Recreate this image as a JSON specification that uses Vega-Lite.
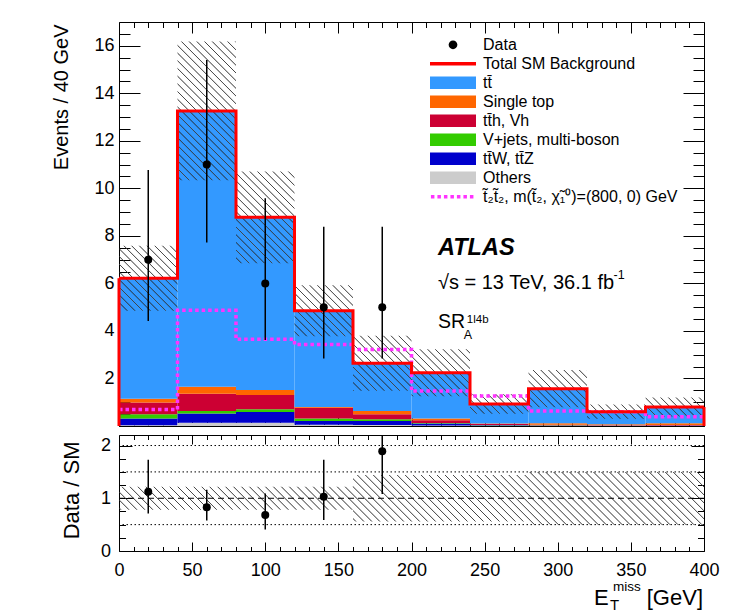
{
"$schema": "https://vega.github.io/schema/vega-lite/v6.json",
"background": "white",
"padding": {"left": 51, "top": 21, "right": 5, "bottom": 5},
"datasets": {
"bins": [
{"lo":0,"hi":40,"mid":20,"total":6.22,"unc_lo":4.85,"unc_hi":7.59,"sig":0.69,"data":7,"data_lo":4.42,"data_hi":10.77,"ratio":1.125,"ratio_lo":0.71,"ratio_hi":1.73,"band_lo":0.78,"band_hi":1.22},
{"lo":40,"hi":80,"mid":60,"total":13.26,"unc_lo":10.34,"unc_hi":16.18,"sig":4.87,"data":11,"data_lo":7.72,"data_hi":15.4,"ratio":0.83,"ratio_lo":0.58,"ratio_hi":1.16,"band_lo":0.78,"band_hi":1.22},
{"lo":80,"hi":120,"mid":100,"total":8.78,"unc_lo":6.85,"unc_hi":10.71,"sig":3.65,"data":6,"data_lo":3.62,"data_hi":9.58,"ratio":0.683,"ratio_lo":0.41,"ratio_hi":1.09,"band_lo":0.78,"band_hi":1.22},
{"lo":120,"hi":160,"mid":140,"total":4.85,"unc_lo":3.78,"unc_hi":5.92,"sig":3.43,"data":5,"data_lo":2.84,"data_hi":8.38,"ratio":1.03,"ratio_lo":0.586,"ratio_hi":1.73,"band_lo":0.78,"band_hi":1.22},
{"lo":160,"hi":200,"mid":180,"total":2.64,"unc_lo":1.48,"unc_hi":3.8,"sig":3.22,"data":5,"data_lo":2.84,"data_hi":8.38,"ratio":1.89,"ratio_lo":1.08,"ratio_hi":3.17,"band_lo":0.56,"band_hi":1.44},
{"lo":200,"hi":240,"mid":220,"total":2.24,"unc_lo":1.25,"unc_hi":3.23,"sig":1.47,"data":null,"data_lo":null,"data_hi":null,"ratio":null,"ratio_lo":null,"ratio_hi":null,"band_lo":0.56,"band_hi":1.44},
{"lo":240,"hi":280,"mid":260,"total":0.93,"unc_lo":0.52,"unc_hi":1.34,"sig":1.26,"data":null,"data_lo":null,"data_hi":null,"ratio":null,"ratio_lo":null,"ratio_hi":null,"band_lo":0.56,"band_hi":1.44},
{"lo":280,"hi":320,"mid":300,"total":1.57,"unc_lo":0.79,"unc_hi":2.36,"sig":0.63,"data":null,"data_lo":null,"data_hi":null,"ratio":null,"ratio_lo":null,"ratio_hi":null,"band_lo":0.5,"band_hi":1.5},
{"lo":320,"hi":360,"mid":340,"total":0.6,"unc_lo":0.3,"unc_hi":0.9,"sig":0.6,"data":null,"data_lo":null,"data_hi":null,"ratio":null,"ratio_lo":null,"ratio_hi":null,"band_lo":0.5,"band_hi":1.5},
{"lo":360,"hi":400,"mid":380,"total":0.8,"unc_lo":0.4,"unc_hi":1.2,"sig":0.39,"data":null,"data_lo":null,"data_hi":null,"ratio":null,"ratio_lo":null,"ratio_hi":null,"band_lo":0.5,"band_hi":1.5}
],
"stack": [
{"lo":0,"hi":40,"comp":"Others","rank":1,"v":0.03},{"lo":0,"hi":40,"comp":"tt\u0304W, tt\u0304Z","rank":2,"v":0.29},{"lo":0,"hi":40,"comp":"V+jets, multi-boson","rank":3,"v":0.17},{"lo":0,"hi":40,"comp":"tt\u0304h, Vh","rank":4,"v":0.5},{"lo":0,"hi":40,"comp":"Single top","rank":5,"v":0.16},{"lo":0,"hi":40,"comp":"tt\u0304","rank":6,"v":5.07},
{"lo":40,"hi":80,"comp":"Others","rank":1,"v":0.14},{"lo":40,"hi":80,"comp":"tt\u0304W, tt\u0304Z","rank":2,"v":0.39},{"lo":40,"hi":80,"comp":"V+jets, multi-boson","rank":3,"v":0.1},{"lo":40,"hi":80,"comp":"tt\u0304h, Vh","rank":4,"v":0.73},{"lo":40,"hi":80,"comp":"Single top","rank":5,"v":0.29},{"lo":40,"hi":80,"comp":"tt\u0304","rank":6,"v":11.61},
{"lo":80,"hi":120,"comp":"Others","rank":1,"v":0.14},{"lo":80,"hi":120,"comp":"tt\u0304W, tt\u0304Z","rank":2,"v":0.45},{"lo":80,"hi":120,"comp":"V+jets, multi-boson","rank":3,"v":0.12},{"lo":80,"hi":120,"comp":"tt\u0304h, Vh","rank":4,"v":0.59},{"lo":80,"hi":120,"comp":"Single top","rank":5,"v":0.22},{"lo":80,"hi":120,"comp":"tt\u0304","rank":6,"v":7.26},
{"lo":120,"hi":160,"comp":"Others","rank":1,"v":0.05},{"lo":120,"hi":160,"comp":"tt\u0304W, tt\u0304Z","rank":2,"v":0.16},{"lo":120,"hi":160,"comp":"V+jets, multi-boson","rank":3,"v":0.11},{"lo":120,"hi":160,"comp":"tt\u0304h, Vh","rank":4,"v":0.45},{"lo":120,"hi":160,"comp":"Single top","rank":5,"v":0.03},{"lo":120,"hi":160,"comp":"tt\u0304","rank":6,"v":4.05},
{"lo":160,"hi":200,"comp":"Others","rank":1,"v":0.04},{"lo":160,"hi":200,"comp":"tt\u0304W, tt\u0304Z","rank":2,"v":0.17},{"lo":160,"hi":200,"comp":"V+jets, multi-boson","rank":3,"v":0.07},{"lo":160,"hi":200,"comp":"tt\u0304h, Vh","rank":4,"v":0.21},{"lo":160,"hi":200,"comp":"Single top","rank":5,"v":0.14},{"lo":160,"hi":200,"comp":"tt\u0304","rank":6,"v":2.01},
{"lo":200,"hi":240,"comp":"Others","rank":1,"v":0.02},{"lo":200,"hi":240,"comp":"tt\u0304W, tt\u0304Z","rank":2,"v":0.08},{"lo":200,"hi":240,"comp":"V+jets, multi-boson","rank":3,"v":0.03},{"lo":200,"hi":240,"comp":"tt\u0304h, Vh","rank":4,"v":0.11},{"lo":200,"hi":240,"comp":"Single top","rank":5,"v":0.08},{"lo":200,"hi":240,"comp":"tt\u0304","rank":6,"v":1.92},
{"lo":240,"hi":280,"comp":"Others","rank":1,"v":0.01},{"lo":240,"hi":280,"comp":"tt\u0304W, tt\u0304Z","rank":2,"v":0.02},{"lo":240,"hi":280,"comp":"V+jets, multi-boson","rank":3,"v":0.01},{"lo":240,"hi":280,"comp":"tt\u0304h, Vh","rank":4,"v":0.04},{"lo":240,"hi":280,"comp":"Single top","rank":5,"v":0.03},{"lo":240,"hi":280,"comp":"tt\u0304","rank":6,"v":0.82},
{"lo":280,"hi":320,"comp":"Others","rank":1,"v":0.01},{"lo":280,"hi":320,"comp":"tt\u0304W, tt\u0304Z","rank":2,"v":0.01},{"lo":280,"hi":320,"comp":"V+jets, multi-boson","rank":3,"v":0.01},{"lo":280,"hi":320,"comp":"tt\u0304h, Vh","rank":4,"v":0.02},{"lo":280,"hi":320,"comp":"Single top","rank":5,"v":0.07},{"lo":280,"hi":320,"comp":"tt\u0304","rank":6,"v":1.45},
{"lo":320,"hi":360,"comp":"Others","rank":1,"v":0.01},{"lo":320,"hi":360,"comp":"tt\u0304W, tt\u0304Z","rank":2,"v":0.01},{"lo":320,"hi":360,"comp":"V+jets, multi-boson","rank":3,"v":0.0},{"lo":320,"hi":360,"comp":"tt\u0304h, Vh","rank":4,"v":0.01},{"lo":320,"hi":360,"comp":"Single top","rank":5,"v":0.04},{"lo":320,"hi":360,"comp":"tt\u0304","rank":6,"v":0.53},
{"lo":360,"hi":400,"comp":"Others","rank":1,"v":0.01},{"lo":360,"hi":400,"comp":"tt\u0304W, tt\u0304Z","rank":2,"v":0.01},{"lo":360,"hi":400,"comp":"V+jets, multi-boson","rank":3,"v":0.0},{"lo":360,"hi":400,"comp":"tt\u0304h, Vh","rank":4,"v":0.02},{"lo":360,"hi":400,"comp":"Single top","rank":5,"v":0.08},{"lo":360,"hi":400,"comp":"tt\u0304","rank":6,"v":0.68}
]
},
"config": {
"view": {"stroke": "black", "strokeWidth": 1},
"font": "Liberation Sans",
"axis": {"grid": false, "domain": false, "labelFont": "Liberation Sans", "labelFontSize": 18, "labelColor": "black", "tickColor": "black", "tickWidth": 1, "labelFlush": false, "labelOverlap": false, "titleFont": "Liberation Sans", "titleFontWeight": "normal", "titleColor": "black"}
},
"spacing": 9,
"bounds": "flush",
"resolve": {"scale": {"color": "independent"}, "legend": {"color": "independent"}},
"vconcat": [
{
"width": 585, "height": 404,
"resolve": {"axis": {"x": "independent", "y": "independent"}},
"layer": [
{
"data": {"name": "stack"},
"transform": [{"stack": "v", "groupby": ["lo"], "sort": [{"field": "rank", "order": "ascending"}], "as": ["s0", "s1"]}],
"mark": {"type": "rect", "strokeWidth": 0},
"encoding": {
"x": {"field": "lo", "type": "quantitative", "scale": {"domain": [0, 400], "nice": false, "zero": false},
"axis": {"orient": "bottom", "values": [0,10,20,30,40,50,60,70,80,90,100,110,120,130,140,150,160,170,180,190,200,210,220,230,240,250,260,270,280,290,300,310,320,330,340,350,360,370,380,390,400], "labels": false, "title": null, "tickSize": {"condition": {"test": "datum.value % 50 === 0", "value": -11}, "value": -5.5}}},
"x2": {"field": "hi"},
"y": {"field": "s0", "type": "quantitative", "scale": {"domain": [0, 17], "nice": false, "zero": false},
"axis": {"orient": "left", "values": [0,0.5,1,1.5,2,2.5,3,3.5,4,4.5,5,5.5,6,6.5,7,7.5,8,8.5,9,9.5,10,10.5,11,11.5,12,12.5,13,13.5,14,14.5,15,15.5,16,16.5], "labelExpr": "datum.value % 2 === 0 && datum.value > 0 ? format(datum.value, 'd') : ''", "labelPadding": 26, "tickSize": {"condition": {"test": "datum.value % 2 === 0", "value": -21}, "value": -11}, "title": "Events / 40 GeV", "titleFontSize": 20, "titleAngle": 270, "titleX": -51.3, "titleY": 2, "titleAlign": "right", "titleBaseline": "alphabetic"}},
"y2": {"field": "s1"},
"color": {"field": "comp", "type": "nominal",
"scale": {"domain": ["Data", "Total SM Background", "tt\u0304", "Single top", "tt\u0304h, Vh", "V+jets, multi-boson", "tt\u0304W, tt\u0304Z", "Others", "t\u0303\u2082t\u0303\u2082, m(t\u0303\u2082, \u03c7\u0303\u2081\u2070)=(800, 0) GeV"],
"range": ["black", "#ff0000", "#3399ff", "#ff6600", "#cc0033", "#33cc00", "#0000cc", "#cccccc", "#ff33ff"]},
"legend": {"orient": "none", "legendX": 309, "legendY": 13.5, "title": null, "padding": 0, "symbolSize": 2116, "clipHeight": 18.6, "rowPadding": 0, "symbolOffset": 0, "symbolStrokeWidth": 3.5, "labelFont": "Liberation Sans", "labelFontSize": 16, "labelColor": "black", "labelOffset": 5, "labelLimit": 400,
"encode": {"symbols": {"update": {
"shape": {"signal": "datum.index === 0 ? 'M-0.19,0A0.19,0.19 0 1 0 0.19,0A0.19,0.19 0 1 0 -0.19,0Z' : datum.index === 8 ? 'M-0.96,0H0.96' : datum.index === 1 ? 'M-1,0H1' : 'M-1,-0.27H1V0.27H-1Z'"},
"fill": {"signal": "['black','transparent','#3399ff','#ff6600','#cc0033','#33cc00','#0000cc','#cccccc','transparent'][datum.index]"},
"stroke": {"signal": "datum.index === 8 ? '#ff33ff' : datum.index === 1 ? '#ff0000' : 'transparent'"},
"strokeWidth": {"value": 3.5},
"strokeDash": {"signal": "datum.index === 8 ? [3.5, 3] : [1, 0]"},
"opacity": {"value": 1}
}}}
}}
}
},
{
"data": {"name": "bins"},
"transform": [{"fold": ["lo", "hi"], "as": ["side", "edge"]}],
"mark": {"type": "area", "fill": {"gradient": "linear", "x1": 0, "y1": 1, "x2": 1.1616, "y2": 0.2506, "stops": [
{"offset":0,"color":"#0000"},{"offset":0.001,"color":"#444"},{"offset":0.002,"color":"#0000"},{"offset":0.008,"color":"#0000"},{"offset":0.009,"color":"#444"},{"offset":0.01,"color":"#0000"},{"offset":0.016,"color":"#0000"},{"offset":0.017,"color":"#444"},{"offset":0.018,"color":"#0000"},{"offset":0.024,"color":"#0000"},{"offset":0.025,"color":"#444"},{"offset":0.026,"color":"#0000"},{"offset":0.032,"color":"#0000"},{"offset":0.033,"color":"#444"},{"offset":0.034,"color":"#0000"},
{"offset":0.04,"color":"#0000"},{"offset":0.041,"color":"#444"},{"offset":0.042,"color":"#0000"},{"offset":0.048,"color":"#0000"},{"offset":0.049,"color":"#444"},{"offset":0.05,"color":"#0000"},{"offset":0.056,"color":"#0000"},{"offset":0.057,"color":"#444"},{"offset":0.058,"color":"#0000"},{"offset":0.064,"color":"#0000"},{"offset":0.065,"color":"#444"},{"offset":0.066,"color":"#0000"},{"offset":0.072,"color":"#0000"},{"offset":0.073,"color":"#444"},{"offset":0.074,"color":"#0000"},
{"offset":0.08,"color":"#0000"},{"offset":0.081,"color":"#444"},{"offset":0.082,"color":"#0000"},{"offset":0.088,"color":"#0000"},{"offset":0.089,"color":"#444"},{"offset":0.09,"color":"#0000"},{"offset":0.096,"color":"#0000"},{"offset":0.097,"color":"#444"},{"offset":0.098,"color":"#0000"},{"offset":0.104,"color":"#0000"},{"offset":0.105,"color":"#444"},{"offset":0.106,"color":"#0000"},{"offset":0.112,"color":"#0000"},{"offset":0.113,"color":"#444"},{"offset":0.114,"color":"#0000"},
{"offset":0.12,"color":"#0000"},{"offset":0.121,"color":"#444"},{"offset":0.122,"color":"#0000"},{"offset":0.128,"color":"#0000"},{"offset":0.129,"color":"#444"},{"offset":0.13,"color":"#0000"},{"offset":0.136,"color":"#0000"},{"offset":0.137,"color":"#444"},{"offset":0.138,"color":"#0000"},{"offset":0.144,"color":"#0000"},{"offset":0.145,"color":"#444"},{"offset":0.146,"color":"#0000"},{"offset":0.152,"color":"#0000"},{"offset":0.153,"color":"#444"},{"offset":0.154,"color":"#0000"},
{"offset":0.16,"color":"#0000"},{"offset":0.161,"color":"#444"},{"offset":0.162,"color":"#0000"},{"offset":0.168,"color":"#0000"},{"offset":0.169,"color":"#444"},{"offset":0.17,"color":"#0000"},{"offset":0.176,"color":"#0000"},{"offset":0.177,"color":"#444"},{"offset":0.178,"color":"#0000"},{"offset":0.184,"color":"#0000"},{"offset":0.185,"color":"#444"},{"offset":0.186,"color":"#0000"},{"offset":0.192,"color":"#0000"},{"offset":0.193,"color":"#444"},{"offset":0.194,"color":"#0000"},
{"offset":0.2,"color":"#0000"},{"offset":0.201,"color":"#444"},{"offset":0.202,"color":"#0000"},{"offset":0.208,"color":"#0000"},{"offset":0.209,"color":"#444"},{"offset":0.21,"color":"#0000"},{"offset":0.216,"color":"#0000"},{"offset":0.217,"color":"#444"},{"offset":0.218,"color":"#0000"},{"offset":0.224,"color":"#0000"},{"offset":0.225,"color":"#444"},{"offset":0.226,"color":"#0000"},{"offset":0.232,"color":"#0000"},{"offset":0.233,"color":"#444"},{"offset":0.234,"color":"#0000"},
{"offset":0.24,"color":"#0000"},{"offset":0.241,"color":"#444"},{"offset":0.242,"color":"#0000"},{"offset":0.248,"color":"#0000"},{"offset":0.249,"color":"#444"},{"offset":0.25,"color":"#0000"},{"offset":0.256,"color":"#0000"},{"offset":0.257,"color":"#444"},{"offset":0.258,"color":"#0000"},{"offset":0.264,"color":"#0000"},{"offset":0.265,"color":"#444"},{"offset":0.266,"color":"#0000"},{"offset":0.272,"color":"#0000"},{"offset":0.273,"color":"#444"},{"offset":0.274,"color":"#0000"},
{"offset":0.28,"color":"#0000"},{"offset":0.281,"color":"#444"},{"offset":0.282,"color":"#0000"},{"offset":0.288,"color":"#0000"},{"offset":0.289,"color":"#444"},{"offset":0.29,"color":"#0000"},{"offset":0.296,"color":"#0000"},{"offset":0.297,"color":"#444"},{"offset":0.298,"color":"#0000"},{"offset":0.304,"color":"#0000"},{"offset":0.305,"color":"#444"},{"offset":0.306,"color":"#0000"},{"offset":0.312,"color":"#0000"},{"offset":0.313,"color":"#444"},{"offset":0.314,"color":"#0000"},
{"offset":0.32,"color":"#0000"},{"offset":0.321,"color":"#444"},{"offset":0.322,"color":"#0000"},{"offset":0.328,"color":"#0000"},{"offset":0.329,"color":"#444"},{"offset":0.33,"color":"#0000"},{"offset":0.336,"color":"#0000"},{"offset":0.337,"color":"#444"},{"offset":0.338,"color":"#0000"},{"offset":0.344,"color":"#0000"},{"offset":0.345,"color":"#444"},{"offset":0.346,"color":"#0000"},{"offset":0.352,"color":"#0000"},{"offset":0.353,"color":"#444"},{"offset":0.354,"color":"#0000"},
{"offset":0.36,"color":"#0000"},{"offset":0.361,"color":"#444"},{"offset":0.362,"color":"#0000"},{"offset":0.368,"color":"#0000"},{"offset":0.369,"color":"#444"},{"offset":0.37,"color":"#0000"},{"offset":0.376,"color":"#0000"},{"offset":0.377,"color":"#444"},{"offset":0.378,"color":"#0000"},{"offset":0.384,"color":"#0000"},{"offset":0.385,"color":"#444"},{"offset":0.386,"color":"#0000"},{"offset":0.392,"color":"#0000"},{"offset":0.393,"color":"#444"},{"offset":0.394,"color":"#0000"},
{"offset":0.4,"color":"#0000"},{"offset":0.401,"color":"#444"},{"offset":0.402,"color":"#0000"},{"offset":0.408,"color":"#0000"},{"offset":0.409,"color":"#444"},{"offset":0.41,"color":"#0000"},{"offset":0.416,"color":"#0000"},{"offset":0.417,"color":"#444"},{"offset":0.418,"color":"#0000"},{"offset":0.424,"color":"#0000"},{"offset":0.425,"color":"#444"},{"offset":0.426,"color":"#0000"},{"offset":0.432,"color":"#0000"},{"offset":0.433,"color":"#444"},{"offset":0.434,"color":"#0000"},
{"offset":0.44,"color":"#0000"},{"offset":0.441,"color":"#444"},{"offset":0.442,"color":"#0000"},{"offset":0.448,"color":"#0000"},{"offset":0.449,"color":"#444"},{"offset":0.45,"color":"#0000"},{"offset":0.456,"color":"#0000"},{"offset":0.457,"color":"#444"},{"offset":0.458,"color":"#0000"},{"offset":0.464,"color":"#0000"},{"offset":0.465,"color":"#444"},{"offset":0.466,"color":"#0000"},{"offset":0.472,"color":"#0000"},{"offset":0.473,"color":"#444"},{"offset":0.474,"color":"#0000"},
{"offset":0.48,"color":"#0000"},{"offset":0.481,"color":"#444"},{"offset":0.482,"color":"#0000"},{"offset":0.488,"color":"#0000"},{"offset":0.489,"color":"#444"},{"offset":0.49,"color":"#0000"},{"offset":0.496,"color":"#0000"},{"offset":0.497,"color":"#444"},{"offset":0.498,"color":"#0000"},{"offset":0.504,"color":"#0000"},{"offset":0.505,"color":"#444"},{"offset":0.506,"color":"#0000"},{"offset":0.512,"color":"#0000"},{"offset":0.513,"color":"#444"},{"offset":0.514,"color":"#0000"},
{"offset":0.52,"color":"#0000"},{"offset":0.521,"color":"#444"},{"offset":0.522,"color":"#0000"},{"offset":0.528,"color":"#0000"},{"offset":0.529,"color":"#444"},{"offset":0.53,"color":"#0000"},{"offset":0.536,"color":"#0000"},{"offset":0.537,"color":"#444"},{"offset":0.538,"color":"#0000"},{"offset":0.544,"color":"#0000"},{"offset":0.545,"color":"#444"},{"offset":0.546,"color":"#0000"},{"offset":0.552,"color":"#0000"},{"offset":0.553,"color":"#444"},{"offset":0.554,"color":"#0000"},
{"offset":0.56,"color":"#0000"},{"offset":0.561,"color":"#444"},{"offset":0.562,"color":"#0000"},{"offset":0.568,"color":"#0000"},{"offset":0.569,"color":"#444"},{"offset":0.57,"color":"#0000"},{"offset":0.576,"color":"#0000"},{"offset":0.577,"color":"#444"},{"offset":0.578,"color":"#0000"},{"offset":0.584,"color":"#0000"},{"offset":0.585,"color":"#444"},{"offset":0.586,"color":"#0000"},{"offset":0.592,"color":"#0000"},{"offset":0.593,"color":"#444"},{"offset":0.594,"color":"#0000"},
{"offset":0.6,"color":"#0000"},{"offset":0.601,"color":"#444"},{"offset":0.602,"color":"#0000"},{"offset":0.608,"color":"#0000"},{"offset":0.609,"color":"#444"},{"offset":0.61,"color":"#0000"},{"offset":0.616,"color":"#0000"},{"offset":0.617,"color":"#444"},{"offset":0.618,"color":"#0000"},{"offset":0.624,"color":"#0000"},{"offset":0.625,"color":"#444"},{"offset":0.626,"color":"#0000"},{"offset":0.632,"color":"#0000"},{"offset":0.633,"color":"#444"},{"offset":0.634,"color":"#0000"},
{"offset":0.64,"color":"#0000"},{"offset":0.641,"color":"#444"},{"offset":0.642,"color":"#0000"},{"offset":0.648,"color":"#0000"},{"offset":0.649,"color":"#444"},{"offset":0.65,"color":"#0000"},{"offset":0.656,"color":"#0000"},{"offset":0.657,"color":"#444"},{"offset":0.658,"color":"#0000"},{"offset":0.664,"color":"#0000"},{"offset":0.665,"color":"#444"},{"offset":0.666,"color":"#0000"},{"offset":0.672,"color":"#0000"},{"offset":0.673,"color":"#444"},{"offset":0.674,"color":"#0000"},
{"offset":0.68,"color":"#0000"},{"offset":0.681,"color":"#444"},{"offset":0.682,"color":"#0000"},{"offset":0.688,"color":"#0000"},{"offset":0.689,"color":"#444"},{"offset":0.69,"color":"#0000"},{"offset":0.696,"color":"#0000"},{"offset":0.697,"color":"#444"},{"offset":0.698,"color":"#0000"},{"offset":0.704,"color":"#0000"},{"offset":0.705,"color":"#444"},{"offset":0.706,"color":"#0000"},{"offset":0.712,"color":"#0000"},{"offset":0.713,"color":"#444"},{"offset":0.714,"color":"#0000"},
{"offset":0.72,"color":"#0000"},{"offset":0.721,"color":"#444"},{"offset":0.722,"color":"#0000"},{"offset":0.728,"color":"#0000"},{"offset":0.729,"color":"#444"},{"offset":0.73,"color":"#0000"},{"offset":0.736,"color":"#0000"},{"offset":0.737,"color":"#444"},{"offset":0.738,"color":"#0000"},{"offset":0.744,"color":"#0000"},{"offset":0.745,"color":"#444"},{"offset":0.746,"color":"#0000"},{"offset":0.752,"color":"#0000"},{"offset":0.753,"color":"#444"},{"offset":0.754,"color":"#0000"},
{"offset":0.76,"color":"#0000"},{"offset":0.761,"color":"#444"},{"offset":0.762,"color":"#0000"},{"offset":0.768,"color":"#0000"},{"offset":0.769,"color":"#444"},{"offset":0.77,"color":"#0000"},{"offset":0.776,"color":"#0000"},{"offset":0.777,"color":"#444"},{"offset":0.778,"color":"#0000"},{"offset":0.784,"color":"#0000"},{"offset":0.785,"color":"#444"},{"offset":0.786,"color":"#0000"},{"offset":0.792,"color":"#0000"},{"offset":0.793,"color":"#444"},{"offset":0.794,"color":"#0000"},
{"offset":0.8,"color":"#0000"},{"offset":0.801,"color":"#444"},{"offset":0.802,"color":"#0000"},{"offset":0.808,"color":"#0000"},{"offset":0.809,"color":"#444"},{"offset":0.81,"color":"#0000"},{"offset":0.816,"color":"#0000"},{"offset":0.817,"color":"#444"},{"offset":0.818,"color":"#0000"},{"offset":0.824,"color":"#0000"},{"offset":0.825,"color":"#444"},{"offset":0.826,"color":"#0000"},{"offset":0.832,"color":"#0000"},{"offset":0.833,"color":"#444"},{"offset":0.834,"color":"#0000"},
{"offset":0.84,"color":"#0000"},{"offset":0.841,"color":"#444"},{"offset":0.842,"color":"#0000"},{"offset":0.848,"color":"#0000"},{"offset":0.849,"color":"#444"},{"offset":0.85,"color":"#0000"},{"offset":0.856,"color":"#0000"},{"offset":0.857,"color":"#444"},{"offset":0.858,"color":"#0000"},{"offset":0.864,"color":"#0000"},{"offset":0.865,"color":"#444"},{"offset":0.866,"color":"#0000"},{"offset":0.872,"color":"#0000"},{"offset":0.873,"color":"#444"},{"offset":0.874,"color":"#0000"},
{"offset":0.88,"color":"#0000"},{"offset":0.881,"color":"#444"},{"offset":0.882,"color":"#0000"},{"offset":0.888,"color":"#0000"},{"offset":0.889,"color":"#444"},{"offset":0.89,"color":"#0000"},{"offset":0.896,"color":"#0000"},{"offset":0.897,"color":"#444"},{"offset":0.898,"color":"#0000"},{"offset":0.904,"color":"#0000"},{"offset":0.905,"color":"#444"},{"offset":0.906,"color":"#0000"},{"offset":0.912,"color":"#0000"},{"offset":0.913,"color":"#444"},{"offset":0.914,"color":"#0000"},
{"offset":0.92,"color":"#0000"},{"offset":0.921,"color":"#444"},{"offset":0.922,"color":"#0000"},{"offset":0.928,"color":"#0000"},{"offset":0.929,"color":"#444"},{"offset":0.93,"color":"#0000"},{"offset":0.936,"color":"#0000"},{"offset":0.937,"color":"#444"},{"offset":0.938,"color":"#0000"},{"offset":0.944,"color":"#0000"},{"offset":0.945,"color":"#444"},{"offset":0.946,"color":"#0000"},{"offset":0.952,"color":"#0000"},{"offset":0.953,"color":"#444"},{"offset":0.954,"color":"#0000"},
{"offset":0.96,"color":"#0000"},{"offset":0.961,"color":"#444"},{"offset":0.962,"color":"#0000"},{"offset":0.968,"color":"#0000"},{"offset":0.969,"color":"#444"},{"offset":0.97,"color":"#0000"},{"offset":0.976,"color":"#0000"},{"offset":0.977,"color":"#444"},{"offset":0.978,"color":"#0000"},{"offset":0.984,"color":"#0000"},{"offset":0.985,"color":"#444"},{"offset":0.986,"color":"#0000"},{"offset":0.992,"color":"#0000"},{"offset":0.993,"color":"#444"},{"offset":0.994,"color":"#0000"},
{"offset":1,"color":"#0000"}
]}},
"encoding": {
"x": {"field": "edge", "type": "quantitative", "axis": {"orient": "top", "values": [0,10,20,30,40,50,60,70,80,90,100,110,120,130,140,150,160,170,180,190,200,210,220,230,240,250,260,270,280,290,300,310,320,330,340,350,360,370,380,390,400], "labels": false, "title": null, "tickSize": {"condition": {"test": "datum.value % 50 === 0", "value": -11}, "value": -5.5}}},
"y": {"field": "unc_lo", "type": "quantitative", "axis": {"orient": "right", "values": [0,0.5,1,1.5,2,2.5,3,3.5,4,4.5,5,5.5,6,6.5,7,7.5,8,8.5,9,9.5,10,10.5,11,11.5,12,12.5,13,13.5,14,14.5,15,15.5,16,16.5], "labels": false, "title": null, "tickSize": {"condition": {"test": "datum.value % 2 === 0", "value": -21}, "value": -11}}},
"y2": {"field": "unc_hi"}
}
},
{
"data": {"name": "bins"},
"transform": [{"fold": ["lo", "hi"], "as": ["side", "edge"]}],
"mark": {"type": "line", "color": "#ff33ff", "strokeWidth": 3.5, "strokeDash": [3.5, 3], "strokeCap": "butt"},
"encoding": {
"x": {"field": "edge", "type": "quantitative", "axis": null},
"y": {"field": "sig", "type": "quantitative", "axis": null},
"order": [{"field": "edge"}, {"field": "lo"}]
}
},
{
"data": {"name": "bins"},
"transform": [{"fold": ["lo", "hi"], "as": ["side", "edge"]}],
"mark": {"type": "line", "color": "#ff0000", "strokeWidth": 3, "strokeJoin": "miter", "strokeCap": "butt"},
"encoding": {
"x": {"field": "edge", "type": "quantitative", "axis": null},
"y": {"field": "total", "type": "quantitative", "axis": null},
"order": [{"field": "edge"}, {"field": "lo"}]
}
},
{
"data": {"name": "bins"},
"transform": [{"filter": "datum.lo === 0"}],
"mark": {"type": "rule", "color": "#ff0000", "strokeWidth": 3},
"encoding": {
"x": {"field": "lo", "type": "quantitative", "axis": null},
"y": {"field": "total", "type": "quantitative", "axis": null},
"y2": {"datum": 0}
}
},
{
"data": {"name": "bins"},
"transform": [{"filter": "datum.hi === 400"}],
"mark": {"type": "rule", "color": "#ff0000", "strokeWidth": 3},
"encoding": {
"x": {"field": "hi", "type": "quantitative", "axis": null},
"y": {"field": "total", "type": "quantitative", "axis": null},
"y2": {"datum": 0}
}
},
{
"data": {"name": "bins"},
"transform": [{"filter": "isValid(datum.data)"}],
"mark": {"type": "rule", "color": "black", "strokeWidth": 1.5},
"encoding": {
"x": {"field": "mid", "type": "quantitative", "axis": null},
"y": {"field": "data_lo", "type": "quantitative", "axis": null},
"y2": {"field": "data_hi"}
}
},
{
"data": {"name": "bins"},
"transform": [{"filter": "isValid(datum.data)"}],
"mark": {"type": "point", "filled": true, "color": "black", "size": 64, "opacity": 1},
"encoding": {
"x": {"field": "mid", "type": "quantitative", "axis": null},
"y": {"field": "data", "type": "quantitative", "axis": null}
}
},
{
"data": {"values": [{}]},
"mark": {"type": "text", "text": "ATLAS", "align": "left", "baseline": "alphabetic", "font": "Liberation Sans", "fontSize": 23.5, "fontStyle": "italic", "fontWeight": "bold", "color": "black"},
"encoding": {"x": {"datum": 218.1, "type": "quantitative", "axis": null}, "y": {"datum": 7.18, "type": "quantitative", "axis": null}}
},
{
"data": {"values": [{}]},
"mark": {"type": "text", "text": "\u221as = 13 TeV, 36.1 fb", "align": "left", "baseline": "alphabetic", "font": "Liberation Sans", "fontSize": 20, "color": "black"},
"encoding": {"x": {"datum": 218.1, "type": "quantitative", "axis": null}, "y": {"datum": 5.75, "type": "quantitative", "axis": null}}
},
{
"data": {"values": [{}]},
"mark": {"type": "text", "text": "-1", "align": "left", "baseline": "alphabetic", "font": "Liberation Sans", "fontSize": 12.5, "color": "black"},
"encoding": {"x": {"datum": 338.2, "type": "quantitative", "axis": null}, "y": {"datum": 6.18, "type": "quantitative", "axis": null}}
},
{
"data": {"values": [{}]},
"mark": {"type": "text", "text": "SR", "align": "left", "baseline": "alphabetic", "font": "Liberation Sans", "fontSize": 19.5, "color": "black"},
"encoding": {"x": {"datum": 218.1, "type": "quantitative", "axis": null}, "y": {"datum": 4.14, "type": "quantitative", "axis": null}}
},
{
"data": {"values": [{}]},
"mark": {"type": "text", "text": "A", "align": "left", "baseline": "alphabetic", "font": "Liberation Sans", "fontSize": 12.5, "color": "black"},
"encoding": {"x": {"datum": 235.8, "type": "quantitative", "axis": null}, "y": {"datum": 3.66, "type": "quantitative", "axis": null}}
},
{
"data": {"values": [{}]},
"mark": {"type": "text", "text": "1l4b", "align": "left", "baseline": "alphabetic", "font": "Liberation Sans", "fontSize": 11.5, "color": "black"},
"encoding": {"x": {"datum": 237.8, "type": "quantitative", "axis": null}, "y": {"datum": 4.33, "type": "quantitative", "axis": null}}
}
]
},
{
"width": 585, "height": 116,
"resolve": {"axis": {"x": "independent", "y": "independent"}},
"layer": [
{
"data": {"name": "bins"},
"transform": [{"fold": ["lo", "hi"], "as": ["side", "edge"]}],
"mark": {"type": "area", "fill": {"gradient": "linear", "x1": 0, "y1": 1, "x2": 1.0813, "y2": 0.9026, "stops": [
{"offset":0,"color":"#0000"},{"offset":0.0015,"color":"#444"},{"offset":0.003,"color":"#0000"},{"offset":0.0125,"color":"#0000"},{"offset":0.014,"color":"#444"},{"offset":0.0155,"color":"#0000"},{"offset":0.025,"color":"#0000"},{"offset":0.0265,"color":"#444"},{"offset":0.028,"color":"#0000"},{"offset":0.0375,"color":"#0000"},{"offset":0.039,"color":"#444"},{"offset":0.0405,"color":"#0000"},{"offset":0.05,"color":"#0000"},{"offset":0.0515,"color":"#444"},{"offset":0.053,"color":"#0000"},{"offset":0.0625,"color":"#0000"},{"offset":0.064,"color":"#444"},{"offset":0.0655,"color":"#0000"},{"offset":0.075,"color":"#0000"},{"offset":0.0765,"color":"#444"},{"offset":0.078,"color":"#0000"},{"offset":0.0875,"color":"#0000"},{"offset":0.089,"color":"#444"},{"offset":0.0905,"color":"#0000"},
{"offset":0.1,"color":"#0000"},{"offset":0.1015,"color":"#444"},{"offset":0.103,"color":"#0000"},{"offset":0.1125,"color":"#0000"},{"offset":0.114,"color":"#444"},{"offset":0.1155,"color":"#0000"},{"offset":0.125,"color":"#0000"},{"offset":0.1265,"color":"#444"},{"offset":0.128,"color":"#0000"},{"offset":0.1375,"color":"#0000"},{"offset":0.139,"color":"#444"},{"offset":0.1405,"color":"#0000"},{"offset":0.15,"color":"#0000"},{"offset":0.1515,"color":"#444"},{"offset":0.153,"color":"#0000"},{"offset":0.1625,"color":"#0000"},{"offset":0.164,"color":"#444"},{"offset":0.1655,"color":"#0000"},{"offset":0.175,"color":"#0000"},{"offset":0.1765,"color":"#444"},{"offset":0.178,"color":"#0000"},{"offset":0.1875,"color":"#0000"},{"offset":0.189,"color":"#444"},{"offset":0.1905,"color":"#0000"},
{"offset":0.2,"color":"#0000"},{"offset":0.2015,"color":"#444"},{"offset":0.203,"color":"#0000"},{"offset":0.2125,"color":"#0000"},{"offset":0.214,"color":"#444"},{"offset":0.2155,"color":"#0000"},{"offset":0.225,"color":"#0000"},{"offset":0.2265,"color":"#444"},{"offset":0.228,"color":"#0000"},{"offset":0.2375,"color":"#0000"},{"offset":0.239,"color":"#444"},{"offset":0.2405,"color":"#0000"},{"offset":0.25,"color":"#0000"},{"offset":0.2515,"color":"#444"},{"offset":0.253,"color":"#0000"},{"offset":0.2625,"color":"#0000"},{"offset":0.264,"color":"#444"},{"offset":0.2655,"color":"#0000"},{"offset":0.275,"color":"#0000"},{"offset":0.2765,"color":"#444"},{"offset":0.278,"color":"#0000"},{"offset":0.2875,"color":"#0000"},{"offset":0.289,"color":"#444"},{"offset":0.2905,"color":"#0000"},
{"offset":0.3,"color":"#0000"},{"offset":0.3015,"color":"#444"},{"offset":0.303,"color":"#0000"},{"offset":0.3125,"color":"#0000"},{"offset":0.314,"color":"#444"},{"offset":0.3155,"color":"#0000"},{"offset":0.325,"color":"#0000"},{"offset":0.3265,"color":"#444"},{"offset":0.328,"color":"#0000"},{"offset":0.3375,"color":"#0000"},{"offset":0.339,"color":"#444"},{"offset":0.3405,"color":"#0000"},{"offset":0.35,"color":"#0000"},{"offset":0.3515,"color":"#444"},{"offset":0.353,"color":"#0000"},{"offset":0.3625,"color":"#0000"},{"offset":0.364,"color":"#444"},{"offset":0.3655,"color":"#0000"},{"offset":0.375,"color":"#0000"},{"offset":0.3765,"color":"#444"},{"offset":0.378,"color":"#0000"},{"offset":0.3875,"color":"#0000"},{"offset":0.389,"color":"#444"},{"offset":0.3905,"color":"#0000"},
{"offset":0.4,"color":"#0000"},{"offset":0.4015,"color":"#444"},{"offset":0.403,"color":"#0000"},{"offset":0.4125,"color":"#0000"},{"offset":0.414,"color":"#444"},{"offset":0.4155,"color":"#0000"},{"offset":0.425,"color":"#0000"},{"offset":0.4265,"color":"#444"},{"offset":0.428,"color":"#0000"},{"offset":0.4375,"color":"#0000"},{"offset":0.439,"color":"#444"},{"offset":0.4405,"color":"#0000"},{"offset":0.45,"color":"#0000"},{"offset":0.4515,"color":"#444"},{"offset":0.453,"color":"#0000"},{"offset":0.4625,"color":"#0000"},{"offset":0.464,"color":"#444"},{"offset":0.4655,"color":"#0000"},{"offset":0.475,"color":"#0000"},{"offset":0.4765,"color":"#444"},{"offset":0.478,"color":"#0000"},{"offset":0.4875,"color":"#0000"},{"offset":0.489,"color":"#444"},{"offset":0.4905,"color":"#0000"},
{"offset":0.5,"color":"#0000"},{"offset":0.5015,"color":"#444"},{"offset":0.503,"color":"#0000"},{"offset":0.5125,"color":"#0000"},{"offset":0.514,"color":"#444"},{"offset":0.5155,"color":"#0000"},{"offset":0.525,"color":"#0000"},{"offset":0.5265,"color":"#444"},{"offset":0.528,"color":"#0000"},{"offset":0.5375,"color":"#0000"},{"offset":0.539,"color":"#444"},{"offset":0.5405,"color":"#0000"},{"offset":0.55,"color":"#0000"},{"offset":0.5515,"color":"#444"},{"offset":0.553,"color":"#0000"},{"offset":0.5625,"color":"#0000"},{"offset":0.564,"color":"#444"},{"offset":0.5655,"color":"#0000"},{"offset":0.575,"color":"#0000"},{"offset":0.5765,"color":"#444"},{"offset":0.578,"color":"#0000"},{"offset":0.5875,"color":"#0000"},{"offset":0.589,"color":"#444"},{"offset":0.5905,"color":"#0000"},
{"offset":0.6,"color":"#0000"},{"offset":0.6015,"color":"#444"},{"offset":0.603,"color":"#0000"},{"offset":0.6125,"color":"#0000"},{"offset":0.614,"color":"#444"},{"offset":0.6155,"color":"#0000"},{"offset":0.625,"color":"#0000"},{"offset":0.6265,"color":"#444"},{"offset":0.628,"color":"#0000"},{"offset":0.6375,"color":"#0000"},{"offset":0.639,"color":"#444"},{"offset":0.6405,"color":"#0000"},{"offset":0.65,"color":"#0000"},{"offset":0.6515,"color":"#444"},{"offset":0.653,"color":"#0000"},{"offset":0.6625,"color":"#0000"},{"offset":0.664,"color":"#444"},{"offset":0.6655,"color":"#0000"},{"offset":0.675,"color":"#0000"},{"offset":0.6765,"color":"#444"},{"offset":0.678,"color":"#0000"},{"offset":0.6875,"color":"#0000"},{"offset":0.689,"color":"#444"},{"offset":0.6905,"color":"#0000"},
{"offset":0.7,"color":"#0000"},{"offset":0.7015,"color":"#444"},{"offset":0.703,"color":"#0000"},{"offset":0.7125,"color":"#0000"},{"offset":0.714,"color":"#444"},{"offset":0.7155,"color":"#0000"},{"offset":0.725,"color":"#0000"},{"offset":0.7265,"color":"#444"},{"offset":0.728,"color":"#0000"},{"offset":0.7375,"color":"#0000"},{"offset":0.739,"color":"#444"},{"offset":0.7405,"color":"#0000"},{"offset":0.75,"color":"#0000"},{"offset":0.7515,"color":"#444"},{"offset":0.753,"color":"#0000"},{"offset":0.7625,"color":"#0000"},{"offset":0.764,"color":"#444"},{"offset":0.7655,"color":"#0000"},{"offset":0.775,"color":"#0000"},{"offset":0.7765,"color":"#444"},{"offset":0.778,"color":"#0000"},{"offset":0.7875,"color":"#0000"},{"offset":0.789,"color":"#444"},{"offset":0.7905,"color":"#0000"},
{"offset":0.8,"color":"#0000"},{"offset":0.8015,"color":"#444"},{"offset":0.803,"color":"#0000"},{"offset":0.8125,"color":"#0000"},{"offset":0.814,"color":"#444"},{"offset":0.8155,"color":"#0000"},{"offset":0.825,"color":"#0000"},{"offset":0.8265,"color":"#444"},{"offset":0.828,"color":"#0000"},{"offset":0.8375,"color":"#0000"},{"offset":0.839,"color":"#444"},{"offset":0.8405,"color":"#0000"},{"offset":0.85,"color":"#0000"},{"offset":0.8515,"color":"#444"},{"offset":0.853,"color":"#0000"},{"offset":0.8625,"color":"#0000"},{"offset":0.864,"color":"#444"},{"offset":0.8655,"color":"#0000"},{"offset":0.875,"color":"#0000"},{"offset":0.8765,"color":"#444"},{"offset":0.878,"color":"#0000"},{"offset":0.8875,"color":"#0000"},{"offset":0.889,"color":"#444"},{"offset":0.8905,"color":"#0000"},
{"offset":0.9,"color":"#0000"},{"offset":0.9015,"color":"#444"},{"offset":0.903,"color":"#0000"},{"offset":0.9125,"color":"#0000"},{"offset":0.914,"color":"#444"},{"offset":0.9155,"color":"#0000"},{"offset":0.925,"color":"#0000"},{"offset":0.9265,"color":"#444"},{"offset":0.928,"color":"#0000"},{"offset":0.9375,"color":"#0000"},{"offset":0.939,"color":"#444"},{"offset":0.9405,"color":"#0000"},{"offset":0.95,"color":"#0000"},{"offset":0.9515,"color":"#444"},{"offset":0.953,"color":"#0000"},{"offset":0.9625,"color":"#0000"},{"offset":0.964,"color":"#444"},{"offset":0.9655,"color":"#0000"},{"offset":0.975,"color":"#0000"},{"offset":0.9765,"color":"#444"},{"offset":0.978,"color":"#0000"},{"offset":0.9875,"color":"#0000"},{"offset":0.989,"color":"#444"},{"offset":0.9905,"color":"#0000"},
{"offset":1,"color":"#0000"}
]}},
"encoding": {
"x": {"field": "edge", "type": "quantitative", "scale": {"domain": [0, 400], "nice": false, "zero": false},
"axis": {"orient": "bottom", "values": [0,10,20,30,40,50,60,70,80,90,100,110,120,130,140,150,160,170,180,190,200,210,220,230,240,250,260,270,280,290,300,310,320,330,340,350,360,370,380,390,400], "labelExpr": "datum.value % 50 === 0 ? format(datum.value, 'd') : ''", "labelPadding": 19, "tickSize": {"condition": {"test": "datum.value % 50 === 0", "value": -9}, "value": -4.5}, "title": null}},
"y": {"field": "band_lo", "type": "quantitative", "scale": {"domain": [0, 2.2], "nice": false, "zero": false},
"axis": {"orient": "left", "values": [0,0.25,0.5,0.75,1,1.25,1.5,1.75,2], "labelExpr": "datum.value % 1 === 0 ? format(datum.value, 'd') : ''", "labelPadding": 21.5, "tickSize": {"condition": {"test": "datum.value % 1 === 0", "value": -13}, "value": -6.5}, "title": "Data / SM", "titleFontSize": 22, "titleAngle": 270, "titleX": -41, "titleY": 6, "titleAlign": "right", "titleBaseline": "alphabetic"}},
"y2": {"field": "band_hi"}
}
},
{
"data": {"values": [{}]},
"mark": {"type": "rule", "color": "black", "strokeWidth": 1, "strokeDash": [6, 4]},
"encoding": {"y": {"datum": 1, "type": "quantitative", "axis": null}}
},
{
"data": {"values": [{}]},
"mark": {"type": "rule", "color": "black", "strokeWidth": 1, "strokeDash": [1.5, 2.5]},
"encoding": {"y": {"datum": 0.5, "type": "quantitative", "axis": null}}
},
{
"data": {"values": [{}]},
"mark": {"type": "rule", "color": "black", "strokeWidth": 1, "strokeDash": [1.5, 2.5]},
"encoding": {"y": {"datum": 1.5, "type": "quantitative", "axis": null}}
},
{
"data": {"values": [{}]},
"mark": {"type": "rule", "color": "black", "strokeWidth": 1, "strokeDash": [1.5, 2.5]},
"encoding": {"y": {"datum": 2, "type": "quantitative", "axis": null}}
},
{
"data": {"name": "bins"},
"transform": [{"filter": "isValid(datum.ratio)"}],
"mark": {"type": "rule", "color": "black", "strokeWidth": 1.5, "clip": true},
"encoding": {
"x": {"field": "mid", "type": "quantitative", "axis": null},
"y": {"field": "ratio_lo", "type": "quantitative", "axis": null},
"y2": {"field": "ratio_hi"}
}
},
{
"data": {"name": "bins"},
"transform": [{"filter": "isValid(datum.ratio)"}],
"mark": {"type": "point", "filled": true, "color": "black", "size": 64, "opacity": 1},
"encoding": {
"x": {"field": "mid", "type": "quantitative", "axis": {"orient": "top", "values": [0,10,20,30,40,50,60,70,80,90,100,110,120,130,140,150,160,170,180,190,200,210,220,230,240,250,260,270,280,290,300,310,320,330,340,350,360,370,380,390,400], "labels": false, "title": null, "tickSize": {"condition": {"test": "datum.value % 50 === 0", "value": -9}, "value": -4.5}}},
"y": {"field": "ratio", "type": "quantitative", "axis": {"orient": "right", "values": [0,0.25,0.5,0.75,1,1.25,1.5,1.75,2], "labels": false, "title": null, "tickSize": {"condition": {"test": "datum.value % 1 === 0", "value": -13}, "value": -6.5}}}
}
},
{
"data": {"values": [{}]},
"mark": {"type": "text", "text": "E", "align": "left", "baseline": "alphabetic", "font": "Liberation Sans", "fontSize": 22, "color": "black", "dx": -110, "dy": 53.5},
"encoding": {"x": {"datum": 400, "type": "quantitative", "axis": null}, "y": {"datum": 0, "type": "quantitative", "axis": null}}
},
{
"data": {"values": [{}]},
"mark": {"type": "text", "text": "T", "align": "left", "baseline": "alphabetic", "font": "Liberation Sans", "fontSize": 15, "color": "black", "dx": -94, "dy": 58.5},
"encoding": {"x": {"datum": 400, "type": "quantitative", "axis": null}, "y": {"datum": 0, "type": "quantitative", "axis": null}}
},
{
"data": {"values": [{}]},
"mark": {"type": "text", "text": "miss", "align": "left", "baseline": "alphabetic", "font": "Liberation Sans", "fontSize": 13.5, "color": "black", "dx": -91, "dy": 40},
"encoding": {"x": {"datum": 400, "type": "quantitative", "axis": null}, "y": {"datum": 0, "type": "quantitative", "axis": null}}
},
{
"data": {"values": [{}]},
"mark": {"type": "text", "text": "[GeV]", "align": "right", "baseline": "alphabetic", "font": "Liberation Sans", "fontSize": 22, "color": "black", "dx": -1, "dy": 53.5},
"encoding": {"x": {"datum": 400, "type": "quantitative", "axis": null}, "y": {"datum": 0, "type": "quantitative", "axis": null}}
}
]
}
]
}
